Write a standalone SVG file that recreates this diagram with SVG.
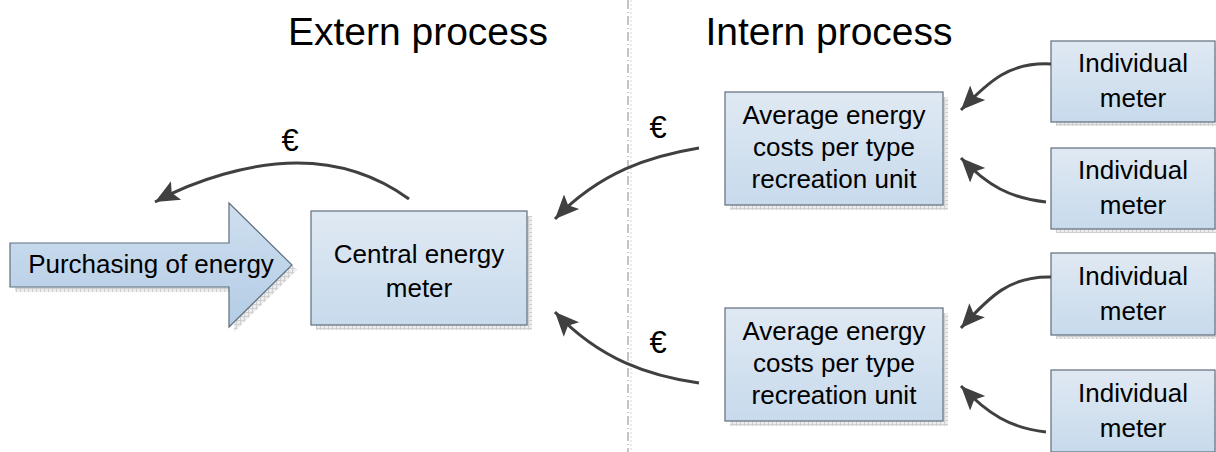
<svg xmlns="http://www.w3.org/2000/svg" width="1216" height="452" viewBox="0 0 1216 452">
<defs>
<linearGradient id="boxg" x1="0" y1="0" x2="0" y2="1">
<stop offset="0" stop-color="#e0e9f3"/>
<stop offset="1" stop-color="#c7daec"/>
</linearGradient>
<linearGradient id="arrg" x1="0" y1="0" x2="0" y2="1">
<stop offset="0" stop-color="#cfdfef"/>
<stop offset="1" stop-color="#b3cce5"/>
</linearGradient>
<pattern id="sh" width="4" height="4" patternUnits="userSpaceOnUse">
<rect width="4" height="4" fill="#ececec"/>
<path d="M0,0.5H4M0.5,0V4" stroke="#cfcfcf" stroke-width="1"/>
</pattern>
<marker id="ah" markerUnits="userSpaceOnUse" markerWidth="26" markerHeight="24" viewBox="0 0 26 24" refX="24" refY="12" orient="auto">
<path d="M24,12 L0,1.5 L5,12 L0,22.5 Z" fill="#404040"/>
</marker>
<style>
.box{fill:url(#boxg);stroke:#5f6e7c;stroke-width:1.2}
.shadow{fill:url(#sh)}
.t{font-family:"Liberation Sans",Arial,sans-serif;font-size:26px;fill:#000;text-anchor:middle}
.title{font-family:"Liberation Sans",Arial,sans-serif;font-size:39px;fill:#000;text-anchor:middle}
.eur{font-family:"Liberation Sans",Arial,sans-serif;font-size:31px;fill:#000;text-anchor:middle}
.c{fill:none;stroke:#404040;stroke-width:3;marker-end:url(#ah)}
</style>
</defs>
<rect width="1216" height="452" fill="#fff"/>

<g id="divider">
<line x1="631" y1="0" x2="631" y2="452" stroke="#d4d4d4" stroke-width="1" stroke-dasharray="2 2"/>
<line x1="628" y1="0" x2="628" y2="452" stroke="#8a8a8a" stroke-width="1" stroke-dasharray="9 3 1 3"/>
</g>

<g id="titles">
<text class="title" x="418" y="45">Extern process</text>
<text class="title" x="829" y="45">Intern process</text>
</g>

<g id="purchasing">
<path class="shadow" d="M15,248 H234 V208 L297,270 L234,332 V292 H15 Z"/>
<path d="M10,243 H229 V203 L292,265 L229,327 V287 H10 Z" fill="url(#arrg)" stroke="#5f6e7c" stroke-width="1.2"/>
<text class="t" x="151" y="273">Purchasing of energy</text>
</g>

<g id="central">
<rect class="shadow" x="316" y="216" width="216" height="114"/>
<rect class="box" x="311" y="211" width="216" height="114"/>
<text class="t" x="419" y="263">Central energy</text>
<text class="t" x="419" y="297">meter</text>
</g>

<g id="avg1">
<rect class="shadow" x="730" y="97" width="218" height="113"/>
<rect class="box" x="725" y="92" width="218" height="113"/>
<text class="t" x="834" y="124">Average energy</text>
<text class="t" x="834" y="156">costs per type</text>
<text class="t" x="834" y="188">recreation unit</text>
</g>

<g id="avg2">
<rect class="shadow" x="730" y="313" width="218" height="113"/>
<rect class="box" x="725" y="308" width="218" height="113"/>
<text class="t" x="834" y="340">Average energy</text>
<text class="t" x="834" y="372">costs per type</text>
<text class="t" x="834" y="404">recreation unit</text>
</g>

<g id="meter1">
<rect class="shadow" x="1056" y="45" width="164" height="81"/>
<rect class="box" x="1051" y="41" width="164" height="81"/>
<text class="t" x="1133" y="72">Individual</text>
<text class="t" x="1133" y="107">meter</text>
</g>

<g id="meter2">
<rect class="shadow" x="1056" y="152" width="164" height="81"/>
<rect class="box" x="1051" y="148" width="164" height="81"/>
<text class="t" x="1133" y="179">Individual</text>
<text class="t" x="1133" y="214">meter</text>
</g>

<g id="meter3">
<rect class="shadow" x="1056" y="257" width="164" height="82"/>
<rect class="box" x="1051" y="253" width="164" height="82"/>
<text class="t" x="1133" y="285">Individual</text>
<text class="t" x="1133" y="320">meter</text>
</g>

<g id="meter4">
<rect class="shadow" x="1056" y="374" width="164" height="82"/>
<rect class="box" x="1051" y="370" width="164" height="82"/>
<text class="t" x="1133" y="402">Individual</text>
<text class="t" x="1133" y="437">meter</text>
</g>

<g id="connectors">
<path class="c" d="M409,199 C380,178 345,163 297,163 C250,163 195,180 155,202"/>
<path class="c" d="M699,148 C650,156 600,172 555,219"/>
<path class="c" d="M699,383 C650,376 600,360 555,312"/>
<path class="c" d="M1051,64 C1010,62 990,80 961,110"/>
<path class="c" d="M1046,202 C1010,198 988,186 961,158"/>
<path class="c" d="M1051,277 C1010,276 990,296 961,328"/>
<path class="c" d="M1046,432 C1010,428 988,414 961,386"/>
</g>

<g id="labels">
<text class="eur" x="290" y="151">€</text>
<text class="eur" x="658" y="138">€</text>
<text class="eur" x="658" y="353">€</text>
</g>
</svg>
